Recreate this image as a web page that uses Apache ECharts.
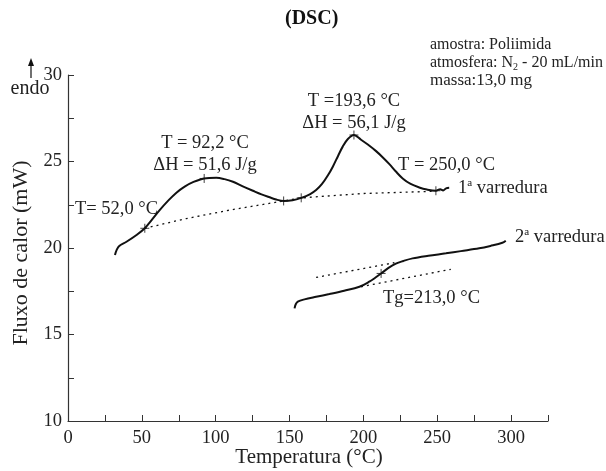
<!DOCTYPE html>
<html>
<head>
<meta charset="utf-8">
<script src="https://cdn.jsdelivr.net/npm/echarts@6/dist/echarts.min.js"></script>
<style>
html,body{margin:0;padding:0;background:#fff;}
#c{width:606px;height:471px;}
</style>
</head>
<body>
<div id="c"></div>
<script>
// ---- data ----
var xTicks = [0, 50, 100, 150, 200, 250, 300];
var yTicks = [10, 15, 20, 25, 30];

var scan1 = [
  [31.8,19.60],[32.9,19.88],[34.7,20.12],[39.6,20.36],[46.4,20.75],[52.0,21.14],
  [57.0,21.65],[62.2,22.20],[68.0,22.75],[73.4,23.20],[79.0,23.55],[85.0,23.82],
  [92.2,24.02],[100.4,24.06],[106.0,23.98],[111.7,23.83],[118.0,23.58],
  [125.2,23.31],[131.0,23.10],[136.5,22.93],[141.0,22.80],[146.0,22.72],[152.0,22.76],
  [157.9,22.90],[164.0,23.12],[168.0,23.35],[172.0,23.70],[176.0,24.20],[179.3,24.70],
  [183.0,25.35],[186.0,25.86],[189.5,26.30],[193.6,26.53],[198.4,26.26],[203.0,25.98],
  [208.6,25.60],[213.0,25.25],[217.6,24.85],[222.0,24.42],[226.6,24.02],[232.0,23.70],
  [237.8,23.50],[243.0,23.38],[249.1,23.31],[252.0,23.40],[254.0,23.33],[256.0,23.45],
  [258.1,23.48]
];
var base1 = [
  [52.0,21.14],[80.0,21.70],[110.0,22.20],[146.0,22.72],[158.0,22.90],
  [200.0,23.15],[249.0,23.28]
];
var marks1 = [[52.0,21.14],[92.2,24.02],[146.0,22.72],[157.9,22.90],[193.6,26.53],[249.1,23.31]];

var scan2 = [
  [153.4,16.51],[154.2,16.75],[155.6,16.90],[160.1,17.03],[168.0,17.18],[177.0,17.34],
  [187.0,17.53],[197.3,17.76],[204.0,18.05],[208.0,18.28],[212.0,18.53],[217.0,18.85],
  [222.0,19.10],[227.0,19.25],[233.3,19.40],[244.0,19.55],[255.9,19.69],[266.0,19.82],
  [278.4,19.98],[286.0,20.12],[294.1,20.30],[296.4,20.42]
];
var tan2Upper = [[168.0,18.30],[221.0,19.15]];
var tan2Lower = [[198.4,17.76],[259.2,18.77]];
var marks2 = [[212.0,18.53]];

var chart = echarts.init(document.getElementById('c'));
var serif = '"Liberation Serif", "DejaVu Serif", serif';
var axisColor = '#333';
var crossPath = 'path://M5,0L5,10M0,5L10,5';
var annFont = '18.5px ' + serif;

function lineSeries(data, width, dotted) {
  return {
    type: 'line', data: data, showSymbol: false, symbol: 'none', smooth: dotted ? false : 0.35,
    lineStyle: { color: '#111', width: width, type: dotted ? [2, 4] : 'solid' },
    silent: true, animation: false, z: dotted ? 2 : 3
  };
}
function markSeries(data) {
  return {
    type: 'scatter', data: data, symbol: crossPath, symbolSize: 9,
    itemStyle: { color: 'none', borderColor: '#111', borderWidth: 1 },
    silent: true, animation: false, z: 4
  };
}

chart.setOption({
  backgroundColor: '#fff',
  animation: false,
  grid: { left: 68, right: 58, top: 75, bottom: 50, containLabel: false, outerBoundsMode: 'none' },
  xAxis: {
    type: 'value', min: 0, max: 325, interval: 50,
    axisLine: { show: true, lineStyle: { color: axisColor, width: 1.2 } },
    axisTick: { show: true, inside: true, length: 6, lineStyle: { color: axisColor } },
    minorTick: { show: true, splitNumber: 2, length: 6, lineStyle: { color: axisColor } },
    splitLine: { show: false },
    axisLabel: {
      showMaxLabel: false, color: '#222', fontFamily: serif, fontSize: 18.5, margin: 8,
      formatter: function (v) { return xTicks.indexOf(v) >= 0 ? String(v) : ''; }
    }
  },
  yAxis: {
    type: 'value', min: 10, max: 30, interval: 5,
    axisLine: { show: true, lineStyle: { color: axisColor, width: 1.2 } },
    axisTick: { show: true, inside: true, length: 6, lineStyle: { color: axisColor } },
    minorTick: { show: true, splitNumber: 2, length: 6, lineStyle: { color: axisColor } },
    splitLine: { show: false },
    axisLabel: {
      color: '#222', fontFamily: serif, fontSize: 18.5, margin: 6,
      formatter: function (v) { return yTicks.indexOf(v) >= 0 ? String(v) : ''; }
    }
  },
  series: [
    lineSeries(base1, 1.3, true),
    lineSeries(tan2Upper, 1.3, true),
    lineSeries(tan2Lower, 1.3, true),
    lineSeries(scan1, 2, false),
    lineSeries(scan2, 2, false),
    markSeries(marks1),
    markSeries(marks2)
  ],
  graphic: [
    { type: 'text', left: 285, top: 9, style: { text: '(DSC)', font: 'bold 20px ' + serif, fill: '#111' } },
    { type: 'text', x: 21, y: 253, rotation: Math.PI / 2,
      style: { text: 'Fluxo de calor (mW)', font: '22px ' + serif, fill: '#222', align: 'center', verticalAlign: 'middle' } },
    { type: 'text', x: 309, y: 457,
      style: { text: 'Temperatura (°C)', font: '21px ' + serif, fill: '#222', align: 'center', verticalAlign: 'middle' } },
    { type: 'text', x: 30, y: 89,
      style: { text: 'endo', font: '20px ' + serif, fill: '#222', align: 'center', verticalAlign: 'middle' } },
    { type: 'line', shape: { x1: 31, y1: 78, x2: 31, y2: 64 }, style: { stroke: '#111', lineWidth: 1.2 } },
    { type: 'polygon', shape: { points: [[31, 58], [28, 66], [34, 66]] }, style: { fill: '#111' } },
    { type: 'text', x: 430, y: 45,
      style: { text: 'amostra: Poliimida', font: '16px ' + serif, fill: '#222', verticalAlign: 'middle' } },
    { type: 'text', x: 430, y: 63,
      style: { text: 'atmosfera: N{sub|2} - 20 mL/min', font: '16px ' + serif, fill: '#222', verticalAlign: 'middle',
        rich: { sub: { font: '10px ' + serif, fill: '#222', padding: [8, 0, 0, 0] } } } },
    { type: 'text', x: 430, y: 81,
      style: { text: 'massa:13,0 mg', font: '17px ' + serif, fill: '#222', verticalAlign: 'middle' } },
    { type: 'text', x: 75, y: 209,
      style: { text: 'T= 52,0 °C', font: annFont, fill: '#222', verticalAlign: 'middle' } },
    { type: 'text', x: 205, y: 143,
      style: { text: 'T = 92,2 °C', font: annFont, fill: '#222', align: 'center', verticalAlign: 'middle' } },
    { type: 'text', x: 205, y: 165,
      style: { text: 'ΔH = 51,6 J/g', font: annFont, fill: '#222', align: 'center', verticalAlign: 'middle' } },
    { type: 'text', x: 354, y: 101,
      style: { text: 'T =193,6 °C', font: annFont, fill: '#222', align: 'center', verticalAlign: 'middle' } },
    { type: 'text', x: 354, y: 123,
      style: { text: 'ΔH = 56,1 J/g', font: annFont, fill: '#222', align: 'center', verticalAlign: 'middle' } },
    { type: 'text', x: 398, y: 165,
      style: { text: 'T = 250,0 °C', font: annFont, fill: '#222', verticalAlign: 'middle' } },
    { type: 'text', x: 458, y: 188,
      style: { text: '1{sup|a} varredura', font: annFont, fill: '#222', verticalAlign: 'middle',
        rich: { sup: { font: '11px ' + serif, fill: '#222', padding: [0, 0, 9, 0] } } } },
    { type: 'text', x: 515, y: 237,
      style: { text: '2{sup|a} varredura', font: annFont, fill: '#222', verticalAlign: 'middle',
        rich: { sup: { font: '11px ' + serif, fill: '#222', padding: [0, 0, 9, 0] } } } },
    { type: 'text', x: 383, y: 298,
      style: { text: 'Tg=213,0 °C', font: annFont, fill: '#222', verticalAlign: 'middle' } }
  ]
});
</script>
</body>
</html>
